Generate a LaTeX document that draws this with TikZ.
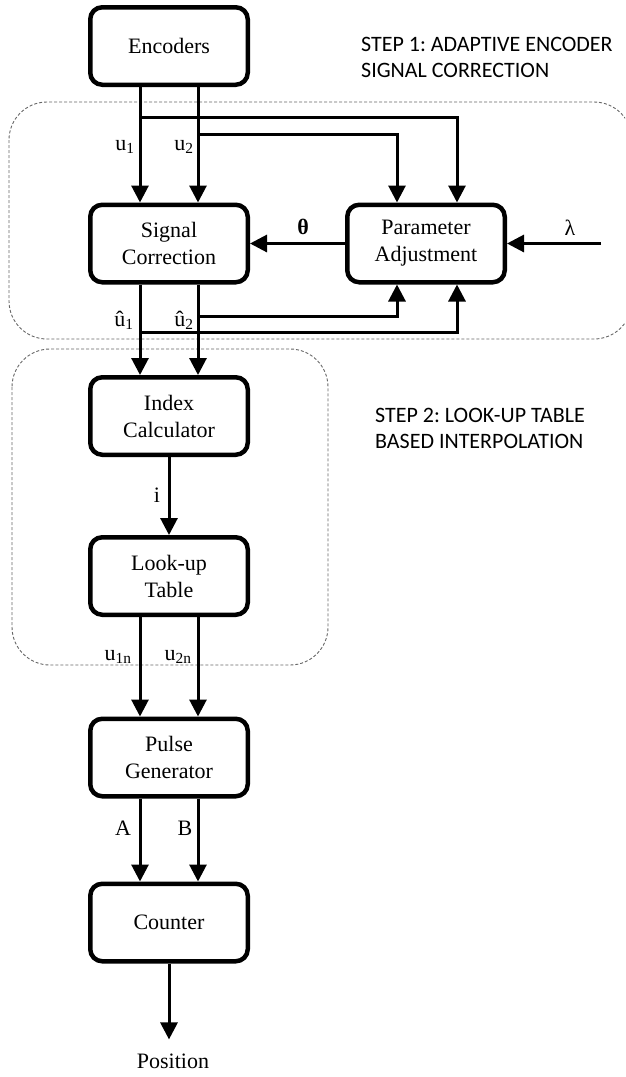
\documentclass[tikz,border=0pt]{standalone}
\usepackage{fontspec}
\setmainfont{Liberation Serif}
\newfontfamily\stepfont{Carlito}
\usetikzlibrary{arrows.meta,calc}
\frenchspacing
\begin{document}
\begin{tikzpicture}[x=1pt,y=-1pt,
  blk/.style={draw, line width=4.5pt, rounded corners=12pt, minimum width=157.5pt, minimum height=77.5pt, align=center, font=\fontsize{22}{27}\selectfont, inner sep=0pt},
  arr/.style={line width=3pt, -{Triangle[width=17pt,length=17pt]}},
  lbl/.style={font=\fontsize{22}{26}\selectfont, inner sep=0pt},
  grp/.style={draw=black!60, dash pattern=on 3pt off 2pt, line width=0.9pt, rounded corners=38pt},
  steptxt/.style={font=\stepfont\fontsize{22}{26}\selectfont, align=left, anchor=west, inner sep=0pt, text=black}
]
\useasboundingbox (0,0) rectangle (625,1077);
\clip (0,0) rectangle (625,1077);

% groups
\draw[grp] (9,102) rectangle (632,339);
\draw[grp] (12,349) rectangle (328,665);

% blocks
\node[blk] (enc) at (169,46) {Encoders};
\node[blk] (sig) at (169,243.5) {Signal\\Correction};
\node[blk] (par) at (426,243.5) {Parameter\\Adjustment};
\node[blk] (idx) at (169,416) {Index\\Calculator};
\node[blk] (lut) at (169,576) {Look-up\\Table};
\node[blk] (pul) at (169,757.5) {Pulse\\Generator};
\node[blk] (cnt) at (169,922.5) {Counter};
\node[lbl, inner ysep=14pt] (pos) at (173,1061) {Position};

% step texts
\node[steptxt] (s1) at (361,57.5) {STEP 1: ADAPTIVE ENCODER\\SIGNAL CORRECTION};
\node[steptxt] (s2) at (375,428) {STEP 2: LOOK-UP TABLE\\BASED INTERPOLATION};

% encoders -> signal correction
\draw[arr] ([xshift=-29pt]enc.south) -- ([xshift=-29pt]sig.north);
\draw[arr] ([xshift=29pt]enc.south) -- ([xshift=29pt]sig.north);
\coordinate (j1) at (140,117);
\coordinate (j2) at (198,134);
\draw[arr] (j1) -| ([xshift=31pt]par.north);
\draw[arr] (j2) -| ([xshift=-29pt]par.north);
\node[lbl] (lu1) at (125,147) {u\textsubscript{1}};
\node[lbl] (lu2) at (184,147) {u\textsubscript{2}};

% theta, lambda
\draw[arr] (par.west) -- (sig.east);
\node[lbl] (lth) at (303,227) {\bfseries θ};
\coordinate (lamin) at (601,243.5);
\draw[arr] (lamin) -- (par.east);
\node[lbl] (llam) at (570,228) {λ};

% signal correction -> index calculator
\draw[arr] ([xshift=-29pt]sig.south) -- ([xshift=-29pt]idx.north);
\draw[arr] ([xshift=29pt]sig.south) -- ([xshift=29pt]idx.north);
\coordinate (k2) at (198,316);
\coordinate (k1) at (140,332);
\draw[arr] (k2) -| ([xshift=-29pt]par.south);
\draw[arr] (k1) -| ([xshift=31pt]par.south);
\node[lbl] (lh1) at (124,320) {û\textsubscript{1}};
\node[lbl] (lh2) at (184,320) {û\textsubscript{2}};

% index -> lut
\draw[arr] (idx.south) -- (lut.north);
\node[lbl] (li) at (157,495) {i};

% lut -> pulse
\draw[arr] ([xshift=-29pt]lut.south) -- ([xshift=-29pt]pul.north);
\draw[arr] ([xshift=29pt]lut.south) -- ([xshift=29pt]pul.north);
\node[lbl] (lu1n) at (118,657) {u\textsubscript{1n}};
\node[lbl] (lu2n) at (178,657) {u\textsubscript{2n}};

% pulse -> counter
\draw[arr] ([xshift=-29pt]pul.south) -- ([xshift=-29pt]cnt.north);
\draw[arr] ([xshift=29pt]pul.south) -- ([xshift=29pt]cnt.north);
\node[lbl] (lA) at (123,828) {A};
\node[lbl] (lB) at (185,828) {B};

% counter -> position
\draw[arr] (cnt.south) -- (cnt.south |- pos.north);
\end{tikzpicture}
\end{document}
